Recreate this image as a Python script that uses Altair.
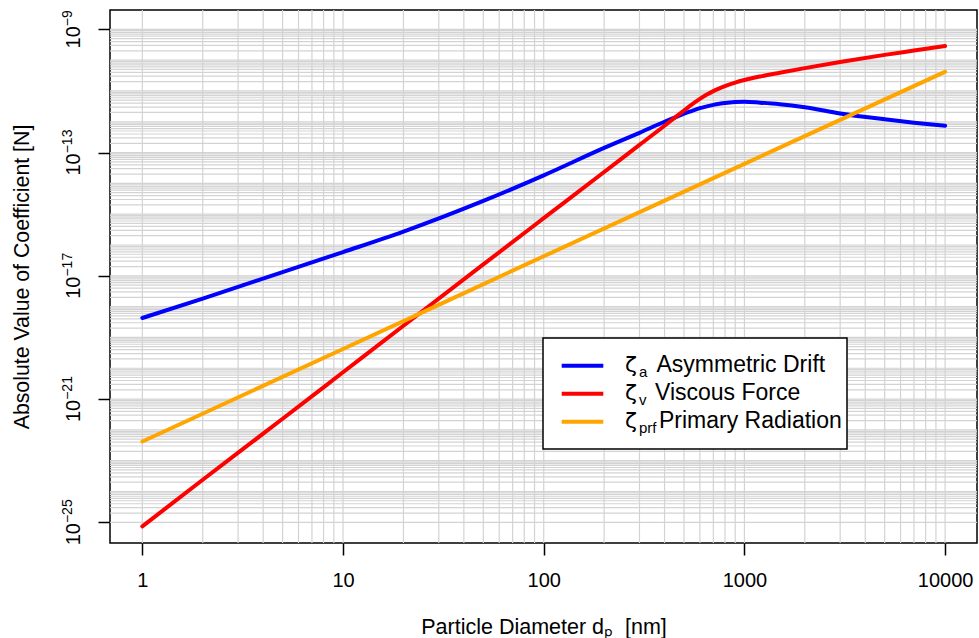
import altair as alt
import pandas as pd

# ---------------- data ----------------
diameter_nm = [1, 2, 5, 10, 20, 50, 100, 200, 300, 400, 450, 500, 550, 600, 650,
               700, 750, 800, 900, 1000, 1200, 1500, 2000, 3000, 5000, 7000, 10000]
zeta_a = [4.27e-19, 1.82e-18, 1.32e-17, 5.89e-17, 2.72e-16, 2.69e-15, 1.82e-14,
          1.41e-13, 4.37e-13, 1.00e-12, 1.36e-12, 1.82e-12, 2.27e-12, 2.75e-12,
          3.16e-12, 3.52e-12, 3.82e-12, 4.07e-12, 4.37e-12, 4.47e-12, 4.17e-12,
          3.72e-12, 2.95e-12, 1.86e-12, 1.20e-12, 9.33e-13, 7.41e-13]
zeta_v = [7.41e-26, 2.40e-24, 2.29e-22, 7.41e-21, 2.40e-19, 2.34e-17, 7.41e-16,
          2.34e-14, 1.78e-13, 7.41e-13, 1.36e-12, 2.32e-12, 3.72e-12, 5.52e-12,
          7.62e-12, 9.86e-12, 1.21e-11, 1.44e-11, 1.87e-11, 2.26e-11, 2.95e-11,
          3.89e-11, 5.50e-11, 8.71e-11, 1.48e-10, 2.04e-10, 2.88e-10]
prf_diameter_nm = [1, 10, 100, 1000, 10000]
zeta_prf = [4.2e-23, 4.2e-20, 4.3e-17, 4.3e-14, 4.2e-11]

series_names = ["Asymmetric Drift", "Viscous Force", "Primary Radiation"]
series_subscripts = ["a", "v", "prf"]
series_colors = ["#0000FF", "#FF0000", "#FFA500"]

x_ticks = [1, 10, 100, 1000, 10000]
y_ticks = [1e-25, 1e-21, 1e-17, 1e-13, 1e-9]
y_tick_exponents = ["−25", "−21", "−17", "−13", "−9"]

x_grid = [m * 10 ** k for k in range(0, 4) for m in range(1, 10)] + [10000]
y_grid = [m * 10.0 ** k for k in range(-25, -9) for m in range(1, 10)] + [1e-9]

x_title = "Particle Diameter dₚ\u00a0\u00a0[nm]"
y_title = "Absolute Value of Coefficient [N]"

# ---------------- layout ----------------
W, H = 867, 533
X_DOMAIN = [0.69, 14420]
Y_DOMAIN = [2.13e-26, 4.23e-9]
FONT = "Liberation Sans"
TICK_FS, SUP_FS = 20, 14

rows = []
for d, v in zip(diameter_nm, zeta_a):
    rows.append({"d": d, "v": v, "series": series_names[0]})
for d, v in zip(diameter_nm, zeta_v):
    rows.append({"d": d, "v": v, "series": series_names[1]})
for d, v in zip(prf_diameter_nm, zeta_prf):
    rows.append({"d": d, "v": v, "series": series_names[2]})
df = pd.DataFrame(rows)

x_axis = alt.Axis(values=x_ticks, format="d", title=x_title, labelFontSize=TICK_FS,
                  labelPadding=15, titleFontSize=21.5, titleFontWeight="normal",
                  titleY=90, titleBaseline="alphabetic", titleFont=FONT,
                  labelFont=FONT, grid=False, domain=False, tickSize=12,
                  tickWidth=1.5, tickColor="black", labelColor="black",
                  titleColor="black")
y_axis = alt.Axis(values=y_ticks, labels=False, title=y_title,
                  titleFont=FONT, titleFontSize=21.3, titleFontWeight="normal",
                  titleAngle=270, titleX=-82, titleY=H / 2, titleAlign="center",
                  titleBaseline="alphabetic", grid=False, domain=False,
                  tickSize=12, tickWidth=1.5, tickColor="black",
                  titleColor="black")

x_enc = alt.X("d:Q", scale=alt.Scale(type="log", domain=X_DOMAIN, nice=False),
              axis=x_axis)
y_enc = alt.Y("v:Q", scale=alt.Scale(type="log", domain=Y_DOMAIN, nice=False),
              axis=y_axis)

xgrid_layer = alt.Chart(pd.DataFrame({"d": x_grid})).mark_rule(
    color="#D3D3D3", strokeWidth=1.2).encode(x=x_enc)
ygrid_layer = alt.Chart(pd.DataFrame({"v": y_grid})).mark_rule(
    color="#D3D3D3", strokeWidth=1.2).encode(y=y_enc)

line_layers = []
for name, color in zip(series_names, series_colors):
    line_layers.append(
        alt.Chart(df[df["series"] == name]).mark_line(
            color=color, strokeWidth=4, strokeCap="round",
            interpolate="monotone", clip=True).encode(x=x_enc, y=y_enc))

# ---------------- y tick labels 10^k (rotated, with real superscripts) ----------------
# with angle 270, dx runs along the text (upwards on screen)
label_layers = []
ten_len = TICK_FS * 1.112
for t, e in zip(y_ticks, y_tick_exponents):
    sup_len = SUP_FS * (0.584 + 0.556 * (len(e) - 1))
    start = (ten_len + sup_len) / 2
    tdf = pd.DataFrame({"v": [t]})
    label_layers.append(alt.Chart(tdf).mark_text(
        font=FONT, fontSize=TICK_FS, angle=270, align="left",
        baseline="alphabetic", color="black", dx=-start).encode(
        x=alt.value(-30), y=y_enc, text=alt.value("10")))
    label_layers.append(alt.Chart(tdf).mark_text(
        font=FONT, fontSize=SUP_FS, angle=270, align="left",
        baseline="alphabetic", color="black", dx=ten_len - start).encode(
        x=alt.value(-38.5), y=y_enc, text=alt.value(e)))

# ---------------- legend (drawn by hand for subscripts) ----------------
one = pd.DataFrame({"k": [0]})
legend_layers = [
    alt.Chart(one).mark_rect(fill="white", stroke="black", strokeWidth=1.5).encode(
        x=alt.value(433), x2=alt.value(737), y=alt.value(328), y2=alt.value(439))
]
label_x = [546.5, 545, 549]
for i, (name, sub, color) in enumerate(zip(series_names, series_subscripts, series_colors)):
    yc = 355.7 + 28 * i
    base = 362 + 28 * i
    legend_layers.append(alt.Chart(one).mark_rule(color=color, strokeWidth=4).encode(
        x=alt.value(451.7), x2=alt.value(493.3), y=alt.value(yc)))
    legend_layers.append(alt.Chart(one).mark_text(
        font="DejaVu Sans", fontSize=22, align="left", baseline="alphabetic",
        color="black").encode(x=alt.value(515), y=alt.value(base), text=alt.value("ζ")))
    legend_layers.append(alt.Chart(one).mark_text(
        font=FONT, fontSize=15, align="left", baseline="alphabetic", color="black").encode(
        x=alt.value(529), y=alt.value(base + 5), text=alt.value(sub)))
    legend_layers.append(alt.Chart(one).mark_text(
        font=FONT, fontSize=23, align="left", baseline="alphabetic", color="black").encode(
        x=alt.value(label_x[i]), y=alt.value(base), text=alt.value(name)))

chart = alt.layer(xgrid_layer, ygrid_layer, *line_layers, *label_layers,
                  *legend_layers).properties(
    width=W, height=H,
    autosize=alt.AutoSizeParams(type="none"),
    padding={"left": 110, "top": 10, "right": 2, "bottom": 95},
).configure_view(stroke="black", strokeWidth=1.5)

chart.save("out.html", embed_options={"renderer": "svg", "actions": False})
